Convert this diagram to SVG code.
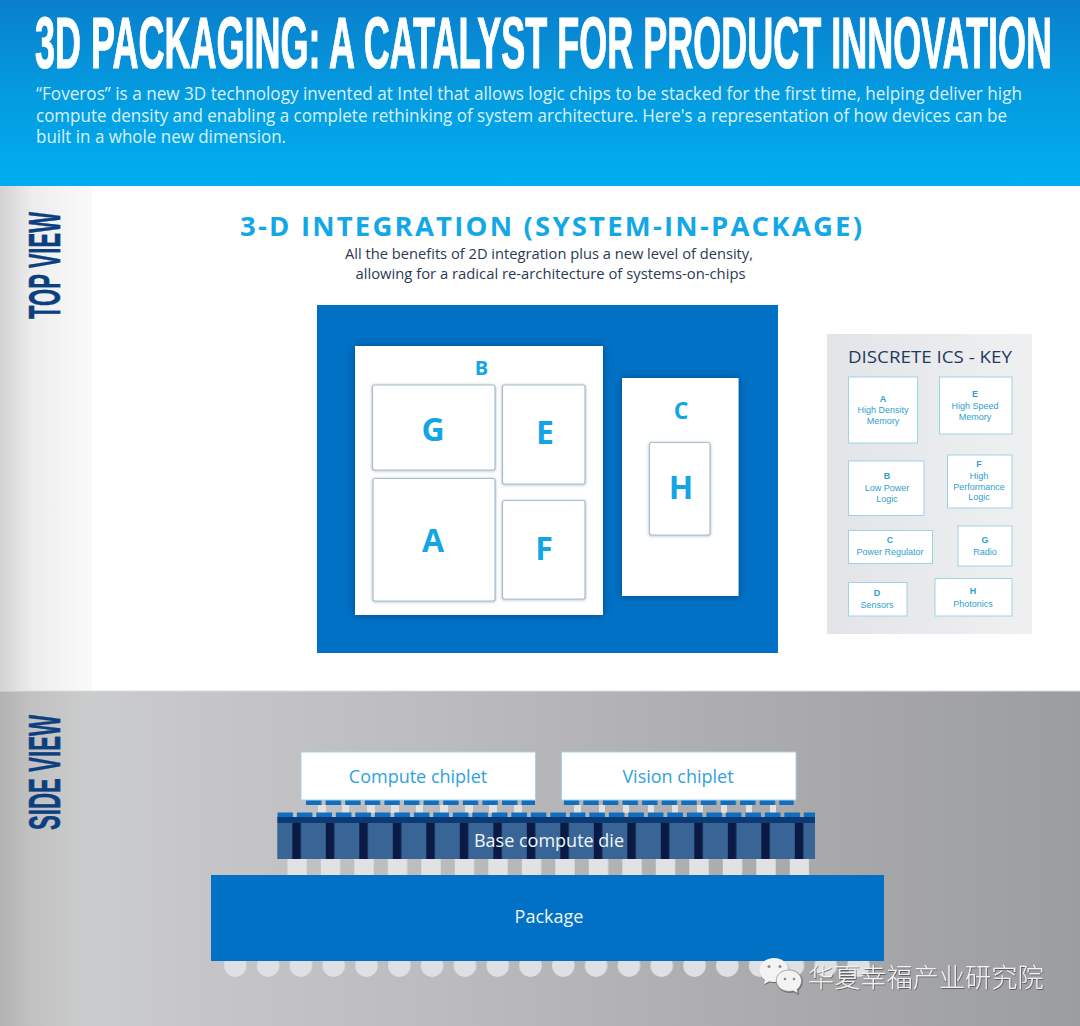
<svg xmlns="http://www.w3.org/2000/svg" width="1080" height="1026" viewBox="0 0 1080 1026">
<style>
text{font-family:"Open Sans","Noto Sans","Liberation Sans",sans-serif}
.head{font-family:"Liberation Sans",Arial,sans-serif;font-weight:700}
.lead{fill:#d8f1fc;font-size:18px}
.sub{fill:#2b3a52;font-size:14.5px}
.letter{fill:#13a5e6;font-weight:700;text-anchor:middle}
.soc{fill:#fff;filter:url(#dark)}
.chip{fill:#fff;stroke:#a8bfca;stroke-width:1.2;filter:url(#soft)}
.key{fill:#fff;stroke:#9fd3e4;stroke-width:1}
.kt{font-family:"Liberation Sans",Arial,sans-serif;fill:#2f9fcc;font-size:9px;text-anchor:middle}
.kb{font-weight:700}
.big{font-size:18px;text-anchor:middle}
.side{fill:#0b3f80;font-size:44px;stroke:#0b3f80;stroke-width:.5}
.cp{fill:#fff;stroke:#a5d3e6;stroke-width:1}
.lite{fill:#e4e2df}
</style>
<defs>
<linearGradient id="hdr" x1="0" y1="0" x2="0" y2="1"><stop offset="0" stop-color="#0a7fcc"/><stop offset="0.5" stop-color="#049be0"/><stop offset="1" stop-color="#00aeef"/></linearGradient>
<linearGradient id="strip" x1="0" y1="0" x2="1" y2="0"><stop offset="0" stop-color="#d2d2d2"/><stop offset="0.35" stop-color="#ededed"/><stop offset="1" stop-color="#fafafa"/></linearGradient>
<linearGradient id="floor" gradientUnits="userSpaceOnUse" x1="0" y1="0" x2="1080" y2="0"><stop offset="0" stop-color="#b2b2b2"/><stop offset="0.03" stop-color="#c2c2c2"/><stop offset="0.085" stop-color="#cbcccd"/><stop offset="0.2" stop-color="#c5c5c7"/><stop offset="0.4" stop-color="#bcbcbe"/><stop offset="0.65" stop-color="#aeaeb0"/><stop offset="1" stop-color="#9c9da1"/></linearGradient>
<linearGradient id="panel" x1="0" y1="0" x2="1" y2="0"><stop offset="0" stop-color="#e3e4e7"/><stop offset="1" stop-color="#eff0f2"/></linearGradient>
<filter id="dark" x="-10%" y="-10%" width="120%" height="120%"><feDropShadow dx="0" dy="0" stdDeviation="4" flood-color="#003a70" flood-opacity="0.7"/></filter>
<filter id="soft" x="-10%" y="-10%" width="120%" height="120%"><feDropShadow dx="0" dy="0.5" stdDeviation="1.5" flood-color="#5f8091" flood-opacity="0.55"/></filter>
<filter id="wm" x="-5%" y="-20%" width="110%" height="140%"><feDropShadow dx="0.6" dy="0.8" stdDeviation="0.5" flood-color="#333" flood-opacity="0.75"/></filter>
<pattern id="pad1" patternUnits="userSpaceOnUse" x="306" y="800" width="19.6" height="5"><rect width="15.4" height="5" fill="#0f6ec0"/></pattern>
<pattern id="pad2" patternUnits="userSpaceOnUse" x="563.7" y="800" width="19.6" height="5"><rect width="15.4" height="5" fill="#0f6ec0"/></pattern>
<pattern id="pad3" patternUnits="userSpaceOnUse" x="277.3" y="812.5" width="19.5" height="5"><rect width="15.7" height="5" fill="#0f6ec0"/></pattern>
<pattern id="via" patternUnits="userSpaceOnUse" x="292.3" y="823" width="33.5" height="36"><rect width="8.5" height="36" fill="#0a1a44"/></pattern>
<pattern id="bump" patternUnits="userSpaceOnUse" x="287.3" y="859" width="33.5" height="16"><rect width="19.4" height="16" fill="#e2e2e4"/></pattern>
<pattern id="ball" patternUnits="userSpaceOnUse" x="224" y="950" width="32.8" height="30"><circle cx="11.3" cy="15.6" r="11.3" fill="#dfe0e3"/></pattern>
</defs>

<g id="header">
<rect width="1080" height="186" fill="url(#hdr)"/>
<text class="head" transform="translate(35 68) scale(.5 1)" font-size="72" fill="#fff" stroke="#fff" stroke-width="1.2" textLength="2034" lengthAdjust="spacingAndGlyphs">3D PACKAGING: A CATALYST FOR PRODUCT INNOVATION</text>
<text class="lead" x="36" y="99.5" textLength="986" lengthAdjust="spacingAndGlyphs">“Foveros” is a new 3D technology invented at Intel that allows logic chips to be stacked for the first time, helping deliver high</text>
<text class="lead" x="36" y="121.5" textLength="971" lengthAdjust="spacingAndGlyphs">compute density and enabling a complete rethinking of system architecture. Here's a representation of how devices can be</text>
<text class="lead" x="36" y="143" textLength="250" lengthAdjust="spacingAndGlyphs">built in a whole new dimension.</text>
</g>

<g id="top-view-band">
<rect y="186" width="1080" height="505" fill="#fff"/>
<rect y="186" width="92" height="505" fill="url(#strip)"/>
<text class="head side" transform="translate(60 319) rotate(-90)" textLength="107" lengthAdjust="spacingAndGlyphs">TOP VIEW</text>
</g>

<g id="top-view-title">
<text x="240" y="235.500" font-size="27.500" font-weight="700" fill="#12a8e8" textLength="622" lengthAdjust="spacing">3-D INTEGRATION (SYSTEM-IN-PACKAGE)</text>
<text class="sub" x="345" y="258.5" textLength="408" lengthAdjust="spacingAndGlyphs">All the benefits of 2D integration plus a new level of density,</text>
<text class="sub" x="355.500" y="279" textLength="390" lengthAdjust="spacingAndGlyphs">allowing for a radical re-architecture of systems-on-chips</text>
</g>

<g id="package-top"><rect x="317" y="305" width="461" height="348" fill="#0071c5"/></g>
<g id="die-B"><rect class="soc" x="355" y="346" width="248" height="269"/><text class="letter" x="481.500" y="374.700" font-size="20">B</text></g>
<g id="die-C"><rect class="soc" x="622" y="378" width="116.500" height="218"/><text class="letter" x="681" y="419" font-size="23">C</text></g>
<g id="chip-G"><rect class="chip" x="372.500" y="385" width="122.500" height="85" rx="2"/><text class="letter" x="433" y="441" font-size="32">G</text></g>
<g id="chip-E"><rect class="chip" x="502.500" y="385" width="82.500" height="99" rx="2"/><text class="letter" x="545" y="444" font-size="32">E</text></g>
<g id="chip-A"><rect class="chip" x="373" y="478.500" width="122" height="122.500" rx="2"/><text class="letter" x="433" y="552" font-size="32">A</text></g>
<g id="chip-F"><rect class="chip" x="502.500" y="500.500" width="82.500" height="98.500" rx="2"/><text class="letter" x="544" y="560" font-size="32">F</text></g>
<g id="chip-H"><rect class="chip" x="649.500" y="442.500" width="60.500" height="92.500" rx="2"/><text class="letter" x="681" y="499" font-size="32">H</text></g>

<g id="key-panel">
<rect x="827" y="334" width="205" height="300" fill="url(#panel)"/>
<text x="848" y="362.500" font-size="15.500" fill="#1f3a60" textLength="164" lengthAdjust="spacingAndGlyphs">DISCRETE ICS - KEY</text>
</g>
<g id="key-A"><rect class="key" x="848.500" y="377" width="69" height="66"/><text class="kt kb" x="883" y="401.500">A</text><text class="kt" x="883" y="413">High Density</text><text class="kt" x="883" y="424">Memory</text></g>
<g id="key-E"><rect class="key" x="939.500" y="377" width="72.500" height="57"/><text class="kt kb" x="975" y="397">E</text><text class="kt" x="975" y="409">High Speed</text><text class="kt" x="975" y="419.500">Memory</text></g>
<g id="key-B"><rect class="key" x="848.500" y="461" width="75.500" height="54.500"/><text class="kt kb" x="887" y="479">B</text><text class="kt" x="887" y="491">Low Power</text><text class="kt" x="887" y="501.500">Logic</text></g>
<g id="key-F"><rect class="key" x="947.500" y="455" width="64.500" height="53"/><text class="kt kb" x="979" y="467">F</text><text class="kt" x="979" y="479">High</text><text class="kt" x="979" y="489.500">Performance</text><text class="kt" x="979" y="500">Logic</text></g>
<g id="key-C"><rect class="key" x="848.500" y="530.500" width="84" height="33"/><text class="kt kb" x="890" y="543">C</text><text class="kt" x="890" y="555">Power Regulator</text></g>
<g id="key-G"><rect class="key" x="958" y="526" width="54" height="40"/><text class="kt kb" x="985" y="543">G</text><text class="kt" x="985" y="555">Radio</text></g>
<g id="key-D"><rect class="key" x="848.500" y="582.500" width="58.500" height="33.500"/><text class="kt kb" x="877" y="596">D</text><text class="kt" x="877" y="608">Sensors</text></g>
<g id="key-H"><rect class="key" x="935" y="578.500" width="77" height="37.500"/><text class="kt kb" x="973" y="594">H</text><text class="kt" x="973" y="606.500">Photonics</text></g>

<g id="side-view-band">
<rect y="691" width="1080" height="335" fill="url(#floor)"/>
<rect y="690.500" width="1080" height="1" fill="#dcdcdc"/>
<text class="head side" transform="translate(60 830) rotate(-90)" textLength="115" lengthAdjust="spacingAndGlyphs">SIDE VIEW</text>
</g>

<g id="micro-bumps">
<rect class="lite" x="318" y="805" width="8" height="8"/><rect class="lite" x="342" y="805" width="7" height="8"/><rect class="lite" x="367" y="805" width="8" height="8"/><rect class="lite" x="391" y="805" width="8" height="8"/><rect class="lite" x="416" y="805" width="7" height="8"/><rect class="lite" x="440" y="805" width="8" height="8"/><rect class="lite" x="465" y="805" width="8" height="8"/><rect class="lite" x="489" y="805" width="8" height="8"/><rect class="lite" x="514" y="805" width="8" height="8"/>
<rect class="lite" x="574" y="805" width="7" height="8"/><rect class="lite" x="599" y="805" width="6" height="8"/><rect class="lite" x="623" y="805" width="6" height="8"/><rect class="lite" x="648" y="805" width="6" height="8"/><rect class="lite" x="672" y="805" width="6" height="8"/><rect class="lite" x="697" y="805" width="6" height="8"/><rect class="lite" x="721" y="805" width="6" height="8"/><rect class="lite" x="746" y="805" width="6" height="8"/><rect class="lite" x="770" y="805" width="6" height="8"/>
</g>

<g id="compute-chiplet">
<rect x="306" y="800" width="229" height="5" fill="url(#pad1)"/>
<rect class="cp" x="301" y="752" width="234.500" height="48"/>
<text class="big" x="418" y="782.500" fill="#2ea3dc">Compute chiplet</text>
</g>
<g id="vision-chiplet">
<rect x="563.700" y="800" width="230" height="5" fill="url(#pad2)"/>
<rect class="cp" x="561.500" y="752" width="234.500" height="48"/>
<text class="big" x="678" y="782.500" fill="#2ea3dc">Vision chiplet</text>
</g>
<g id="base-compute-die">
<rect x="277.300" y="812.500" width="537.700" height="5" fill="url(#pad3)"/>
<rect x="277.300" y="817" width="537.700" height="6" fill="#0b3a75"/>
<rect x="277.300" y="823" width="537.700" height="36" fill="#386595"/>
<rect x="277.300" y="823" width="537.700" height="36" fill="url(#via)"/>
<text class="big" x="549" y="847" fill="#f0f5fa">Base compute die</text>
</g>
<g id="die-bumps"><rect x="287.300" y="859" width="522" height="16" fill="url(#bump)"/></g>
<g id="solder-balls"><rect x="224" y="961" width="656" height="17" fill="url(#ball)"/></g>
<g id="package">
<rect x="211" y="875" width="673" height="86" fill="#0071c5"/>
<text class="big" x="549" y="923" fill="#f0f5fa">Package</text>
</g>

<g id="watermark" filter="url(#wm)">
<path d="M774 958c8 0 14.500 5.400 14.500 12s-6.500 12-14.500 12c-1.700 0-3.300-.2-4.800-.7l-5.200 3 1-4.500c-3.500-2.200-5.500-5.800-5.500-9.800 0-6.600 6.500-12 14.500-12z" fill="#f3f3f3"/>
<path d="M789 970c7 0 12.500 4.900 12.500 11 0 3.400-1.700 6.400-4.400 8.400l.9 4.100-4.700-2.600c-1.300.3-2.800.5-4.300.5-7 0-12.700-4.800-12.700-10.900s5.700-10.500 12.700-10.500z" fill="#f3f3f3" stroke="#777" stroke-width=".6"/>
<circle cx="769" cy="966.500" r="1.500" fill="#8a8a8a"/><circle cx="780" cy="966.500" r="1.500" fill="#8a8a8a"/>
<circle cx="785" cy="979" r="1.300" fill="#8a8a8a"/><circle cx="794" cy="979" r="1.300" fill="#8a8a8a"/>
<text x="808" y="987" font-size="26.200" fill="#f2f2f2" style="font-family:'Noto Sans CJK SC','Noto Sans',sans-serif;font-weight:300">华夏幸福产业研究院</text>
</g>
</svg>
